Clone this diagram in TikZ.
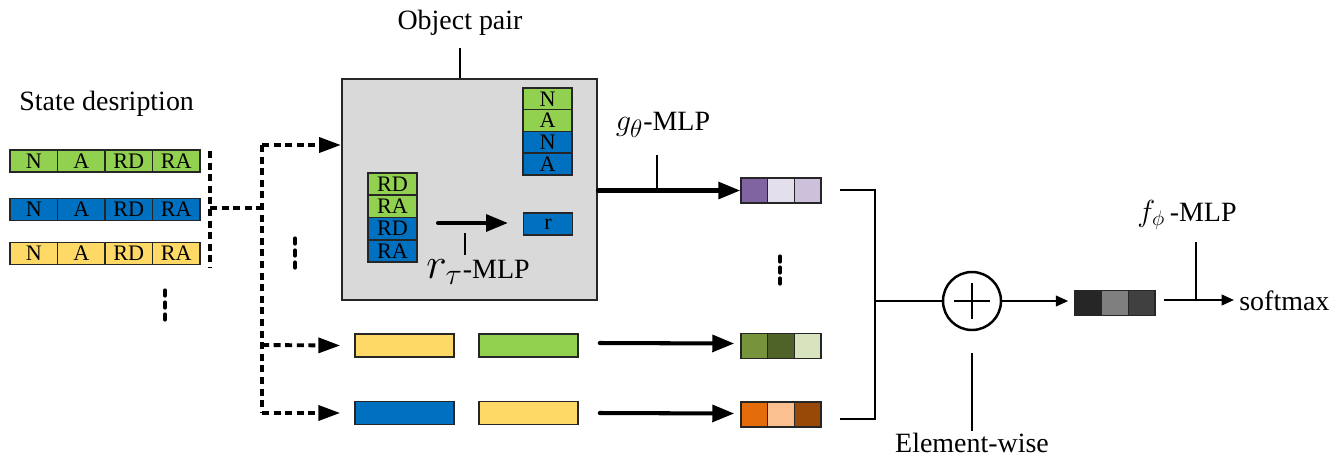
\documentclass[tikz,border=0pt]{standalone}
\usepackage{fontspec}
\setmainfont{Liberation Serif}
\usetikzlibrary{arrows.meta,calc}
\definecolor{cgreen}{HTML}{92D050}
\definecolor{cblue}{HTML}{0070C0}
\definecolor{cyellow}{HTML}{FFD966}
\definecolor{cgray}{HTML}{D9D9D9}
\definecolor{pa}{HTML}{8064A2}
\definecolor{pb}{HTML}{E4DFEC}
\definecolor{pc}{HTML}{CCC0DA}
\definecolor{ga}{HTML}{77933C}
\definecolor{gb}{HTML}{4F6228}
\definecolor{gc}{HTML}{D7E4BD}
\definecolor{oa}{HTML}{E46C0A}
\definecolor{ob}{HTML}{FAC090}
\definecolor{oc}{HTML}{984807}
\definecolor{ka}{HTML}{262626}
\definecolor{kb}{HTML}{7F7F7F}
\definecolor{kc}{HTML}{404040}
\begin{document}
\begin{tikzpicture}[x=0.02cm,y=-0.02cm,
  lbl/.style={inner sep=0pt, font=\fontsize{15.9}{18}\selectfont},
  cellbase/.style={draw=black!85, line width=0.85pt, inner sep=0pt, font=\fontsize{12.6}{14}\selectfont},
  rowcell/.style={cellbase, minimum width=0.95cm, minimum height=0.44cm},
  stackcell/.style={cellbase, minimum width=0.98cm, minimum height=0.44cm},
  veccell/.style={cellbase, minimum width=0.533cm, minimum height=0.5cm},
  longbox/.style={cellbase, minimum width=1.98cm, minimum height=0.46cm},
  dashline/.style={line width=2.2pt, dash pattern=on 4pt off 2.6pt},
  dasharrow/.style={dashline, -{Triangle[length=12.5pt,width=8.5pt]}},
  thickarrow/.style={line width=2.3pt, line cap=round, -{Triangle[length=12.5pt,width=9.5pt]}},
  thinarrow/.style={line width=1.2pt, -{Triangle[length=7pt,width=6pt]}},
  solidline/.style={line width=1.4pt},
  dotmark/.style={line width=2.4pt, line cap=round}
]
\useasboundingbox (0,0) rectangle (1332,457);

% state description
\node[lbl, anchor=west] (sd) at (19,104) {State desription};
\foreach \r/\y/\c in {1/161/cgreen, 2/209.5/cblue, 3/253.5/cyellow}{
  \foreach \t [count=\i] in {N,A,RD,RA}{
    \node[rowcell, fill=\c] (s\r-\i) at ({10+47.5*(\i-0.5)},\y) {\t};
  }
}
\foreach \yy in {293,305,317}{\draw[dotmark] (165,\yy-2.5) -- (165,\yy+2.5);}

% dashed connectors
\coordinate (da) at (210,151);
\coordinate (db) at (210,268);
\coordinate (dm) at (210,208);
\coordinate (jm) at (262,208);
\coordinate (jt) at (262,145);
\coordinate (j2) at (262,345);
\coordinate (j3) at (262,413);
\draw[dashline] (da) -- (db);
\draw[dashline] (dm) -- (jm);
\draw[dashline] (jt) -- (j3);
\foreach \yy in {241,253,265}{\draw[dotmark] (295,\yy-2.5) -- (295,\yy+2.5);}

% object pair box
\node[draw=black!85, line width=1.2pt, fill=cgray, minimum width=5.1cm, minimum height=4.42cm, inner sep=0pt] (box) at (469.5,189.5) {};
\draw[dasharrow] (jt) -- (box.west |- jt);
\node[lbl] (op) at (460,23) {Object pair};
\coordinate (opt) at (460,48);
\draw[solidline] (opt) -- (opt |- box.north);

\foreach \t/\c [count=\i] in {N/cgreen,A/cgreen,N/cblue,A/cblue}{
  \node[stackcell, fill=\c] (na\i) at (547.5,{88+21.75*(\i-0.5)}) {\t};
}
\foreach \t/\c [count=\i] in {RD/cgreen,RA/cgreen,RD/cblue,RA/cblue}{
  \node[stackcell, fill=\c] (rd\i) at (392.5,{173+22.25*(\i-0.5)}) {\t};
}
\node[stackcell, fill=cblue] (rbox) at (548,224) {r};
\coordinate (ia) at (438,223);
\coordinate (ib) at (508,223);
\draw[thickarrow] (ia) -- (ib);
\coordinate (rt1) at (465,233);
\coordinate (rt2) at (465,255);
\draw[solidline] (rt1) -- (rt2);
\node[lbl] (rlbl) at (478,272) {{\fontsize{25}{26}\selectfont$r_{\tau}$}-MLP};

% g theta
\node[veccell, fill=pa] (p1) at (754.3,190.5) {};
\node[veccell, fill=pb] (p2) at (781,190.5) {};
\node[veccell, fill=pc] (p3) at (807.7,190.5) {};
\draw[thickarrow] (box.east |- p1) -- (p1.west);
\node[lbl] (glbl) at (663,125) {{\fontsize{19}{20}\selectfont$g_{\theta}$}-MLP};
\coordinate (gt) at (657,155);
\draw[solidline] (gt) -- (gt |- p1);
\foreach \yy in {259,270,281}{\draw[dotmark] (780,\yy-2.5) -- (780,\yy+2.5);}

% lower pairs
\node[longbox, fill=cyellow] (y1) at (404.5,345.5) {};
\node[longbox, fill=cgreen] (g1) at (528.5,345.5) {};
\node[longbox, fill=cblue] (b2) at (404.5,413) {};
\node[longbox, fill=cyellow] (y2) at (528.5,413) {};
\draw[dasharrow] (j2) -- ($(y1.west)+(-14,0)$);
\draw[dasharrow] (j3) -- ($(b2.west)+(-14,0)$);

\node[veccell, fill=ga] (q1) at (754.3,346) {};
\node[veccell, fill=gb] (q2) at (781,346) {};
\node[veccell, fill=gc] (q3) at (807.7,346) {};
\node[veccell, fill=oa] (o1) at (754.3,414.5) {};
\node[veccell, fill=ob] (o2) at (781,414.5) {};
\node[veccell, fill=oc] (o3) at (807.7,414.5) {};
\draw[thickarrow] ($(g1.east)+(21,-2.5)$) -- ($(q1.west)+(-6,-2.5)$);
\draw[thickarrow] ($(y2.east)+(21,0)$) -- ($(o1.west)+(-6,-1)$);

% bracket and sum
\coordinate (bt) at (840,190);
\coordinate (bb) at (840,419);
\coordinate (bm) at (875,301);
\draw[solidline] (bt) -- (875,190) -- (875,419) -- (bb);
\node[draw, circle, line width=1.4pt, minimum size=1.16cm, inner sep=0pt] (plus) at (972,301) {};
\draw[solidline] (plus.center) +(-18,0) -- +(18,0);
\draw[solidline] (plus.center) +(0,-18) -- +(0,18);
\draw[solidline] (bm) -- (plus.west);
\coordinate (et) at (972,353);
\coordinate (eb) at (972,431);
\draw[solidline] (et) -- (eb);
\node[lbl] (elbl) at (972,443) {Element-wise};

% f phi
\node[veccell, fill=ka] (k1) at (1088.3,303) {};
\node[veccell, fill=kb] (k2) at (1115,303) {};
\node[veccell, fill=kc] (k3) at (1141.7,303) {};
\draw[thinarrow] (plus.east) -- ($(k1.west)+(-6,-2)$);
\node[lbl, anchor=west] (soft) at (1239,301) {softmax};
\draw[thinarrow] ($(k3.east)+(8,-3)$) -- ($(soft.west)+(-5,-1)$);
\coordinate (ft) at (1196,242);
\draw[solidline] (ft) -- (1196,299);
\node[lbl] (flbl) at (1187,215) {{\fontsize{18}{20}\selectfont$f_{\phi}$}\,-MLP};
\end{tikzpicture}
\end{document}
